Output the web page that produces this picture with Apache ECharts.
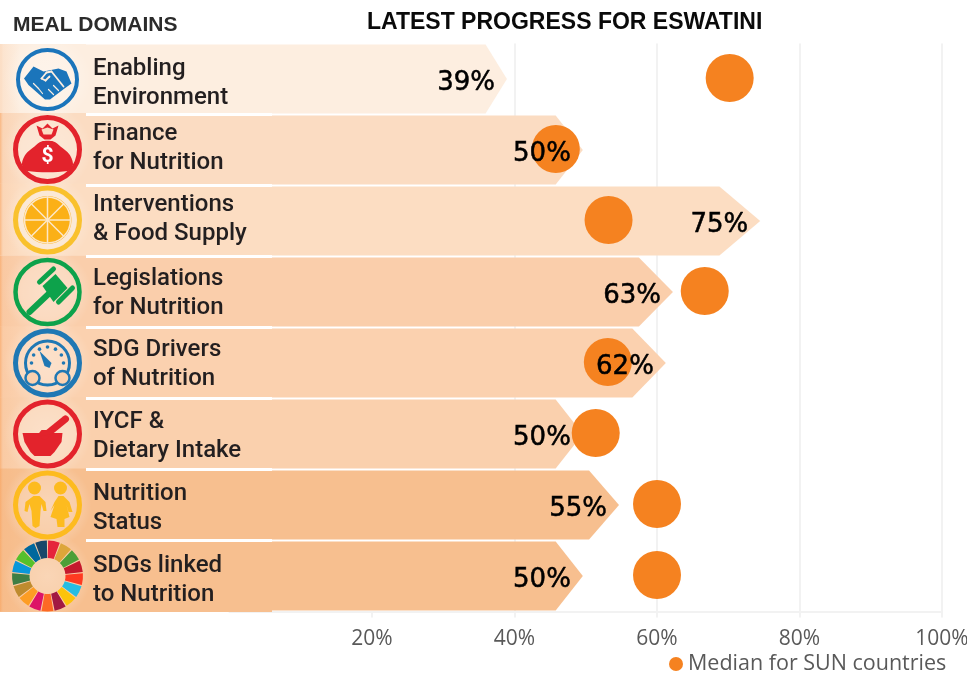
<!DOCTYPE html>
<html>
<head>
<meta charset="utf-8">
<style>html,body{margin:0;padding:0;background:#fff}#c{width:967px;height:673px}</style>
<script src="https://cdn.jsdelivr.net/npm/echarts@6/dist/echarts.min.js"></script>
</head>
<body>
<div id="c"></div>
<script>
const categories = ['Enabling\nEnvironment','Finance\nfor Nutrition','Interventions\n& Food Supply','Legislations\nfor Nutrition','SDG Drivers\nof Nutrition','IYCF &\nDietary Intake','Nutrition\nStatus','SDGs linked\nto Nutrition'];
const progress = [39.1, 49.8, 74.8, 62.5, 61.5, 49.8, 54.9, 49.8];
const median = [70.2, 45.8, 53.2, 66.7, 53.1, 51.4, 60, 60];
const rowColors = ['#FDEEE0','#FBDCC2','#FCDDC2','#FACEAB','#FBD1AF','#FAD0AD','#F7BF8F','#F7BF8F'];
const xTicks = [20, 40, 60, 80, 100];
const sdgColors = ['#E5243B','#DDA63A','#4C9F38','#C5192D','#FF3A21','#26BDE2','#FCC30B','#A21942','#FD6925','#DD1367','#FD9D24','#BF8B2E','#3F7E44','#0A97D9','#56C02B','#00689D','#19486A'];
const legendName = 'Median for SUN countries';

const rowH = 69, Z = 10;
const labelCy = [83.5,148,219.5,293,364.5,436.5,508,580.5];
// ---- decoration: icons in the left column ----
const ring = (r,w,c)=>({type:'circle',shape:{r},style:{fill:'none',stroke:c,lineWidth:w},z:Z+1});
const disc = (x,y,r,c,z)=>({type:'circle',shape:{cx:x,cy:y,r},style:{fill:c},z:z||Z+2});
const poly = (points,c,smooth,z)=>({type:'polygon',shape:{points,smooth:smooth||0},style:{fill:c},z:z||Z+2});
const seg = (x1,y1,x2,y2,c,w,z)=>({type:'line',shape:{x1,y1,x2,y2},style:{stroke:c,lineWidth:w,lineCap:'round'},z:z||Z+2});
const blue='#1B75BB', red='#E3232C', yellow='#F9C12D', green='#0DA24B', blue2='#1F78B4', yel2='#FDBB1F';
const cream='#FDEEE0';

const icons = [
 [ring(29.5,4,blue),
  poly([[-23.5,-1],[-14,-13],[-4,-8],[11,-11],[19,-8],[24,4],[17,9],[2.5,20],[-2.5,20],[-19,5.5]],blue),
  seg(-6,-1,-1,-7,cream,1.8,Z+3),seg(-1,-7,4,-8,cream,1.8,Z+3),seg(4,-8,16,7,cream,1.8,Z+3),seg(-6,-1,-2,1,cream,1.8,Z+3),seg(-2,1,2,-3,cream,1.8,Z+3),
  seg(-14,4,-9,9,cream,1.2,Z+3),seg(-9,9,-5,14,cream,1.2,Z+3),seg(6,15,1,10,cream,1.2,Z+3),seg(11,11,6,6,cream,1.2,Z+3)],
 [ring(32,5,red),
  poly([[-20,21.5],[-25.5,15],[-22,5],[-13,-3],[-6,-8],[6,-8],[13,-3],[22,5],[25.5,15],[20,21.5]],red,0.3),
  poly([[-11,-24],[-5,-21],[0,-26],[5,-21],[11,-24],[8,-14],[3,-10],[-3,-10],[-8,-14]],red),
  poly([[-6,-20],[0,-22],[6,-20],[4,-15],[-4,-15]],'#FBDCC2','',Z+3),
  {type:'text',x:0,y:7,style:{text:'$',fontSize:21,fontWeight:'bold',fontFamily:'Roboto',fill:'#fff',textAlign:'center',textVerticalAlign:'middle'},z:Z+3}],
 [ring(32,5,yellow),
  disc(0,0,29,'#FBE9D6',Z),
  disc(0,0,24,'#FBB017'),
  {type:'circle',shape:{r:23},style:{fill:'none',stroke:'#FDE7C8',lineWidth:1.5},z:Z+3},
  ...[0,1,2,3].map(i=>{const a=i*Math.PI/4,c=Math.cos(a)*23,s=Math.sin(a)*23;return seg(-c,-s,c,s,'#FDE7C8',1.5,Z+3);})],
 [ring(32,4.5,green),
  seg(-18,20,1,2,green,6),
  poly([[-5,-6],[8,-18],[20,-4],[6,10]],green),
  seg(-8,-10,6,-23,green,5),
  seg(11,10,25,-4,green,5)],
 [ring(32,5,blue2),
  ring(22,3,blue2),
  ...[-150,-120,-90,-60,-30,-180,0].map(d=>disc(Math.cos(d*Math.PI/180)*16,Math.sin(d*Math.PI/180)*16,1.8,blue2)),
  poly([[-8,-12],[4,0],[2,5],[-3,3]],blue2),
  {type:'circle',shape:{cx:-15,cy:15,r:7},style:{fill:'#FBD1AF',stroke:blue2,lineWidth:2.5},z:Z+3},
  {type:'circle',shape:{cx:15,cy:15,r:7},style:{fill:'#FBD1AF',stroke:blue2,lineWidth:2.5},z:Z+3}],
 [ring(32,5,red),
  poly([[-25,-1],[15,-1],[14,8],[7,18],[3,22],[-13,22],[-17,18],[-23,8]],red),
  seg(-3,2,18,-15,red,7),
  poly([[-10,1],[-6,-4],[3,-4],[5,-1],[-2,2]],red)],
 [ring(32,5,yel2),
  disc(-13,-17,6.5,yel2),disc(13,-17,6.5,yel2),
  poly([[-23,6],[-22,-3],[-14,-9],[-8,-9],[-2,-3],[-1,6],[-4,6],[-6,-1],[-7,6],[-8,21],[-12,23],[-15,21],[-16,6],[-18,-1],[-20,7]],yel2),
  poly([[3,6],[7,-3],[11,-9],[16,-9],[22,-3],[25,7],[21,7],[19,0],[22,12],[17,14],[17,22],[10,22],[9,14],[3,12],[7,0]],yel2)],
 sdgColors.map((c,i)=>({type:'sector',shape:{r:35.5,r0:18,startAngle:(-90+i*360/17+1)*Math.PI/180,endAngle:(-90+(i+1)*360/17-1)*Math.PI/180},style:{fill:c},z:Z+1}))
];

const iconCy = [79.5,149.5,220,292,363,434,505,576];
const graphics = [];
categories.forEach((name,i)=>{
  const top = iconCy[i]-35.5;
  // solid left column: no white gap between rows here
  graphics.push({type:'rect',shape:{x:0,y:i===0?44:top-1,width:86,height:i===0?70:72},style:{fill:rowColors[i]},z:Z-1});
  // orange edge fading into the row
  graphics.push({type:'rect',shape:{x:0,y:i===0?44:top-1,width:20,height:i===0?70:72},
    style:{fill:{type:'linear',x:0,y:0,x2:1,y2:0,colorStops:[{offset:0,color:i===0?'rgba(250,200,160,0.4)':'rgba(248,160,90,0.6)'},{offset:0.15,color:'rgba(248,170,110,0.15)'},{offset:1,color:'rgba(248,170,110,0)'}]}},z:Z-1});
  // soft light halo behind the icon
  graphics.push({type:'circle',shape:{cx:47.5,cy:iconCy[i],r:44},
    style:{fill:{type:'radial',x:0.5,y:0.5,r:0.5,colorStops:[{offset:0,color:'rgba(255,255,255,0.35)'},{offset:0.6,color:'rgba(255,255,255,0.25)'},{offset:1,color:'rgba(255,255,255,0)'}]}},z:Z});
  graphics.push({type:'group',x:47.5,y:iconCy[i],children:icons[i]});
  // wider white gap beside the icon column
  if(i<7) graphics.push({type:'rect',shape:{x:86,y:113+71*i,width:186,height:3},style:{fill:'#fff'},z:5});
  // row name, placed row by row as in the panel
  graphics.push({type:'text',x:93,y:labelCy[i],z:6,style:{text:name,textAlign:'left',textVerticalAlign:'middle',fontFamily:'Roboto',fontWeight:500,fontSize:24,lineHeight:29,fill:'#231f20'}});
});
// the label panel runs one pixel past the axis line
graphics.push({type:'rect',shape:{x:0,y:609,width:272,height:3},style:{fill:rowColors[7]},z:5});

const chart = echarts.init(document.getElementById('c'),null,{renderer:'canvas'});
chart.setOption({
  animation:false,
  backgroundColor:'#fff',
  title:[
    {text:'LATEST PROGRESS FOR ESWATINI',left:362,top:6,textStyle:{fontFamily:'Liberation Sans',fontWeight:'bold',fontSize:23,color:'#0a0a0a'}},
    {text:'MEAL DOMAINS',left:8,top:10,textStyle:{fontFamily:'Liberation Sans',fontWeight:'bold',fontSize:21,color:'#2b2b2b'}}
  ],
  legend:{data:[{name:legendName,icon:'circle'}],left:664,top:648,itemWidth:14,itemHeight:14,itemGap:7,textStyle:{fontFamily:'Open Sans',fontSize:21.5,color:'#595959'}},
  grid:{left:229.5,right:25,top:43.5,height:568,outerBoundsMode:'none'},
  xAxis:{type:'value',min:0,max:100,interval:20,z:0,
    axisLabel:{customValues:xTicks,formatter:v=>v+'%',fontFamily:'Open Sans',fontSize:21,color:'#595959',margin:17},
    axisLine:{show:true,lineStyle:{color:'#f2f2f2',width:2}},
    axisTick:{show:true,customValues:xTicks,length:6,lineStyle:{color:'#f2f2f2',width:2}},
    splitLine:{show:true,showMinLine:false,lineStyle:{color:'#f2f2f2',width:2}}},
  yAxis:{type:'category',inverse:true,data:categories,
    axisLine:{show:false},axisTick:{show:false},splitLine:{show:false},axisLabel:{show:false}},
  graphic:{elements:graphics},
  series:[
    {type:'custom',name:'Progress',z:2,silent:true,clip:false,
      data:progress.map((v,i)=>[v,i]),
      encode:{x:0,y:1},
      renderItem(params,api){
        const v=api.value(0), p=api.coord([v,api.value(1)]);
        const tip=p[0]-0.03*v, sh=tip-0.545*v, t=p[1]-rowH/2, b=p[1]+rowH/2;
        return {type:'polygon',shape:{points:[[0,t],[sh,t],[tip,p[1]],[sh,b],[0,b]]},style:{fill:rowColors[params.dataIndex]}};
      }},
    {type:'scatter',name:legendName,z:3,silent:true,symbol:'circle',symbolSize:48,symbolOffset:[0,-1],
      itemStyle:{color:'#F58220',opacity:1},
      data:median.map((v,i)=>[v,i])},
    {type:'custom',name:'Progress labels',z:4,silent:true,clip:false,
      data:progress.map((v,i)=>[v,i]),
      encode:{x:0,y:1},
      renderItem(params,api){
        const v=api.value(0), p=api.coord([v,api.value(1)]);
        return {type:'text',x:p[0]-0.03*v-12,y:p[1]+4,style:{text:Math.round(v)+'%',textAlign:'right',textVerticalAlign:'middle',fontFamily:'DejaVu Sans',fontSize:26,fill:'#000',stroke:'#000',lineWidth:0.5}};
      }}
  ]
});
</script>
</body>
</html>
